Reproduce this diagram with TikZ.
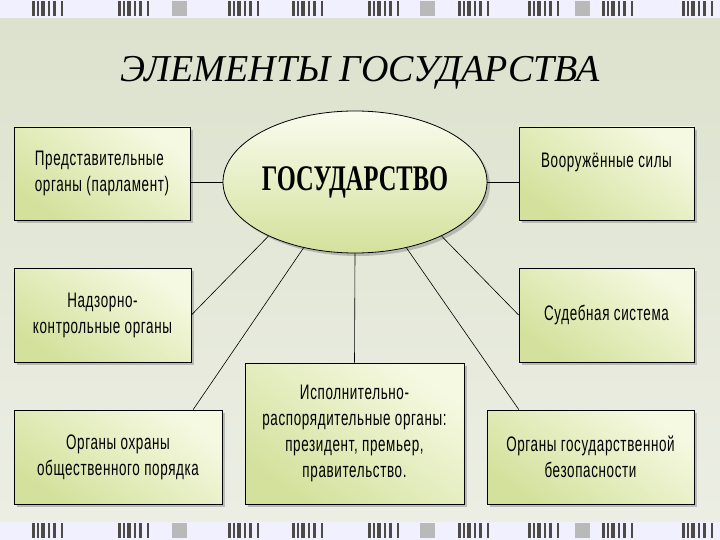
\documentclass[tikz,border=0pt]{standalone}
\usepackage{fontspec}
\setmainfont{Liberation Serif}
\newfontfamily\boxfont[FakeStretch=0.64,LetterSpace=3]{Liberation Sans}
\newfontfamily\statefont[FakeStretch=0.68]{Liberation Serif}
\usetikzlibrary{shapes.geometric,shadows,calc}
\definecolor{boxlight}{HTML}{F6F9E2}
\definecolor{boxdark}{HTML}{D3E19C}
\definecolor{bgtop}{HTML}{DCE2CD}
\definecolor{bgmid}{HTML}{F4F5EF}
\definecolor{bgbot}{HTML}{ECEEE4}
\definecolor{barcol}{HTML}{4E4A48}
\tikzset{
  orgbox/.style={draw=black, line width=0.8pt, shading=axis, top color=boxlight,
    bottom color=boxdark, shading angle=-35, align=center, inner sep=2pt,
    drop shadow={shadow xshift=3pt, shadow yshift=-3pt, fill=black!45, opacity=0.5},
    font=\boxfont\fontsize{21}{26}\selectfont},
  statell/.style={ellipse, draw=black, line width=0.8pt, top color=boxlight!60!white,
    bottom color=boxdark, inner sep=0pt, minimum width=264pt, minimum height=142pt,
    drop shadow={shadow xshift=3pt, shadow yshift=-3pt, fill=black!45, opacity=0.5},
    font=\statefont\bfseries\fontsize{36}{40}\selectfont},
  link/.style={draw=black, line width=0.6pt}
}
\begin{document}
\begin{tikzpicture}[x=1pt,y=-1pt]
  \useasboundingbox (0,0) rectangle (720,540);
  % background and bands
  \shade[top color=bgtop, middle color=bgmid, bottom color=bgbot] (0,17) rectangle (720,522);
  \foreach \y in {0,522}{
    \fill[white!94!blue] (0,\y) rectangle (720,\y+18);
    \foreach \x in {32,118,228,292,368,458,528,602,682}{
      \foreach \d/\w in {0/3,5/2,9/4,16/2,21/3,29/2}
        \fill[barcol] (\x+\d,\y+1) rectangle ++(\w,15);
    }
    \foreach \x in {172,420,575}
      \fill[gray!55] (\x,\y+1) rectangle ++(15,15);
  }
  % title
  \node[anchor=base] (title) at (360,82) {\fontsize{38}{42}\selectfont\itshape ЭЛЕМЕНТЫ ГОСУДАРСТВА};
  % centre
  \node[statell] (gos) at (355,182) {ГОСУДАРСТВО};
  % boxes
  \node[orgbox, minimum width=176pt, minimum height=93pt, align=left] (parl) at (102,173.5)
    {Представительные\\органы (парламент)};
  \node[orgbox, minimum width=177pt, minimum height=94pt] (nadz) at (102.5,315)
    {Надзорно-\\контрольные органы};
  \node[orgbox, minimum width=208pt, minimum height=94pt] (ohr) at (118,457)
    {Органы охраны\\общественного порядка};
  \node[orgbox, minimum width=219pt, minimum height=141pt] (isp) at (354.5,433.5)
    {Исполнительно-\\распорядительные органы:\\президент, премьер,\\правительство.};
  \node[orgbox, minimum width=175pt, minimum height=93pt] (arm) at (606.5,173.5)
    {Вооружённые силы\\\mbox{}};
  \node[orgbox, minimum width=175pt, minimum height=94pt] (sud) at (606.5,315)
    {Судебная система};
  \node[orgbox, minimum width=207pt, minimum height=94pt] (bez) at (590.5,457)
    {Органы государственной\\безопасности};
  % links
  \draw[link] (gos.west) -- (gos.west -| parl.east);
  \draw[link] (gos.east) -- (gos.east -| arm.west);
  \draw[link] (gos.212) -- (nadz.east);
  \draw[link] (gos.232) -- ($(ohr.north east)!0.14!(ohr.north west)$);
  \draw[link] (gos.south) -- (isp.north);
  \draw[link] (gos.328) -- (sud.west);
  \draw[link] (gos.308) -- ($(bez.north west)!0.155!(bez.north east)$);
\end{tikzpicture}
\end{document}
